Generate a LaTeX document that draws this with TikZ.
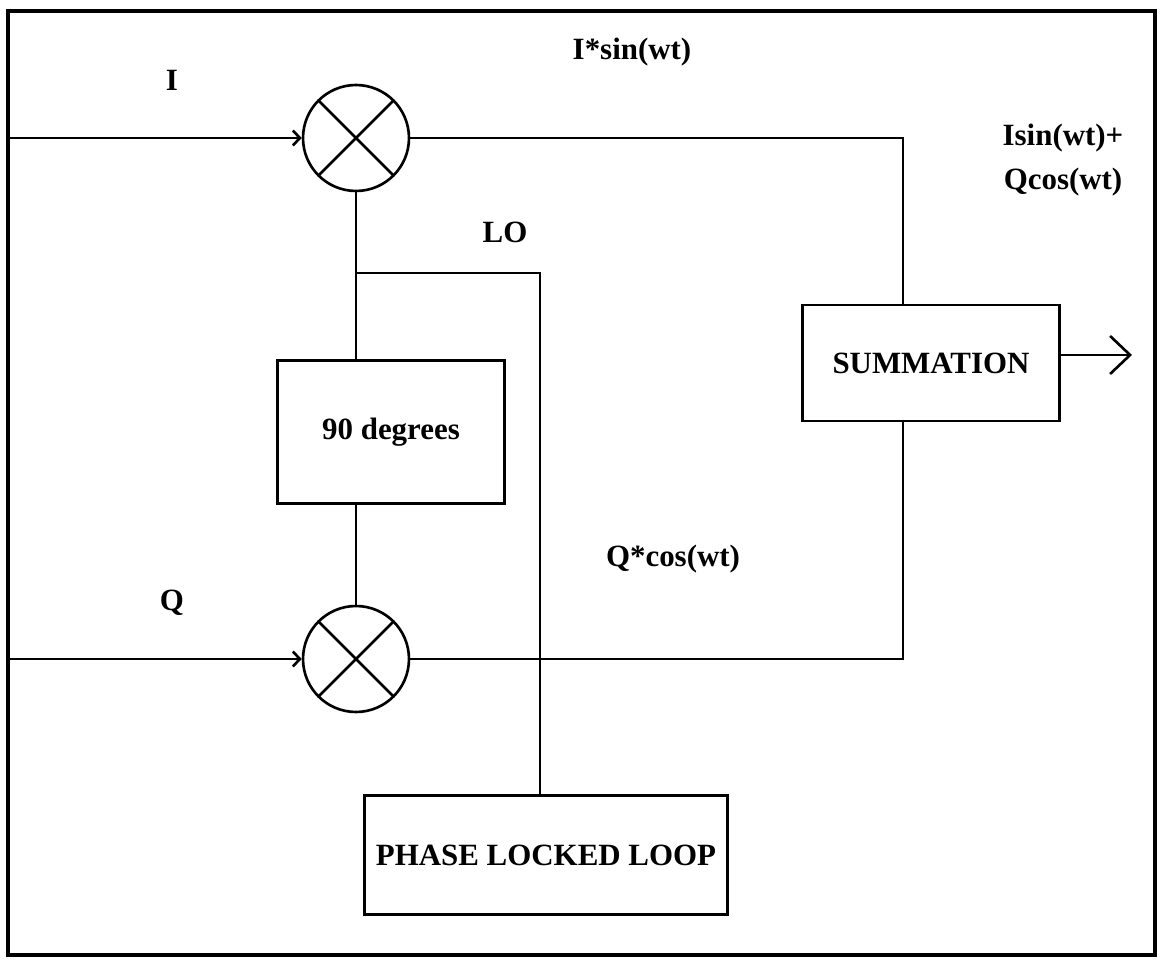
\documentclass[tikz,border=0pt]{standalone}
\usepackage{fontspec}
\setmainfont{Liberation Serif}
\usetikzlibrary{arrows.meta}

\tikzset{
  lbl/.style={font=\fontsize{17.6}{21}\selectfont\bfseries, inner sep=0pt},
  blockbox/.style={draw, line width=1.5pt, rectangle, lbl},
  mixer/.style={draw, circle, line width=1.5pt, minimum size=2.12cm, inner sep=0pt,
    path picture={\draw[line width=1.5pt]
      (path picture bounding box.north west) -- (path picture bounding box.south east)
      (path picture bounding box.north east) -- (path picture bounding box.south west);}},
  small/.style={-{Straight Barb[length=0.14cm,width=0.3cm]}},
  big/.style={-{Straight Barb[length=0.4cm,width=0.76cm]}}
}

\begin{document}
\begin{tikzpicture}[x=0.02cm, y=-0.02cm, line width=1.5pt]
  \useasboundingbox (0,0) rectangle (1160,962);
  \draw[line width=1.8pt] (8,11) rectangle (1155,955);

  % mixers and blocks
  \node[mixer] (mixI) at (356,138) {};
  \node[mixer] (mixQ) at (356,659) {};
  \node[blockbox, minimum width=4.54cm, minimum height=2.86cm] (deg) at (391,432) {90 degrees};
  \node[blockbox, minimum width=5.14cm, minimum height=2.32cm] (sum) at (931,363) {SUMMATION};
  \node[blockbox, minimum width=7.26cm, minimum height=2.38cm] (pll) at (546,855) {PHASE LOCKED LOOP};

  % labels
  \node[lbl] (lblI) at (172,80) {I};
  \node[lbl] (lblIsin) at (632,52) {I*sin(wt)};
  \node[lbl] (lblLO) at (505,232) {LO};
  \node[lbl, align=center] (lblOut) at (1063,160) {Isin(wt)+\\[4pt]Qcos(wt)};
  \node[lbl] (lblQcos) at (673,559) {Q*cos(wt)};
  \node[lbl] (lblQ) at (172,603) {Q};

  % free ends
  \coordinate (inI) at (8,138);
  \coordinate (inQ) at (8,659);
  \coordinate (sumI) at (903,305);
  \coordinate (sumQ) at (903,421);
  \coordinate (lo) at (356,273);
  \coordinate (pllIn) at (540,796);
  \coordinate (out) at (1132,355);

  % connectors
  \draw[small] (inI) -- (mixI.west);
  \draw[small] (inQ) -- (mixQ.west);
  \draw (mixI.east) -| (sumI);
  \draw (mixQ.east) -| (sumQ);
  \draw (mixI.south) -- (mixI.south |- deg.north);
  \draw (lo) -| (pllIn);
  \draw (mixQ.north |- deg.south) -- (mixQ.north);
  \draw[big] (sum.east |- out) -- (out);
\end{tikzpicture}
\end{document}
